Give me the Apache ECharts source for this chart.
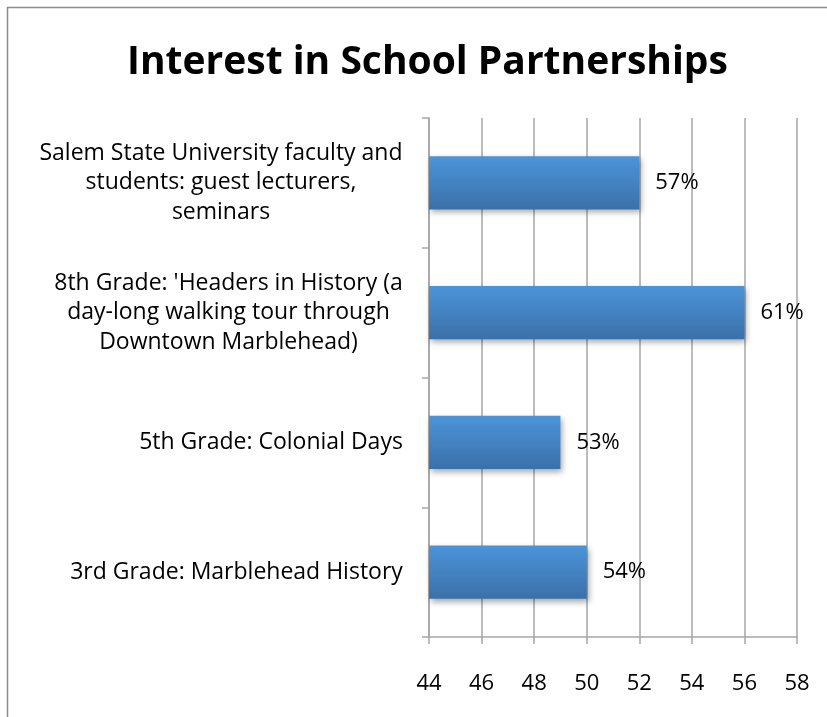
<!DOCTYPE html>
<html>
<head>
<meta charset="utf-8">
<script src="https://cdn.jsdelivr.net/npm/echarts@6/dist/echarts.min.js"></script>
<style>
  html, body { margin: 0; padding: 0; background: #fff; }
  #chart { width: 827px; height: 717px; }
</style>
</head>
<body>
<div id="chart"></div>
<script>
const categories = [
  "3rd Grade: Marblehead History",
  "5th Grade: Colonial Days",
  "8th Grade: 'Headers in History (a\nday-long walking tour through\nDowntown Marblehead)",
  "Salem State University faculty and\nstudents: guest lecturers,\nseminars"
];
const barValues = [50, 49, 56, 52];
const barLabels = ["54%", "53%", "61%", "57%"];
const xTicks = [44, 46, 48, 50, 52, 54, 56, 58];
const titleText = "Interest in School Partnerships";

const FONT = "Open Sans";
const labelSize = 23;
const titleSize = 39;

// measure text so wrapped category lines can be centred and the title placed
const ctx = document.createElement("canvas").getContext("2d");
ctx.font = labelSize + "px " + FONT;
const rich = {};
categories.forEach((c, i) => {
  const w = Math.max(...c.split("\n").map((l) => ctx.measureText(l).width));
  rich["w" + i] = { width: Math.ceil(w), align: "center", fontSize: labelSize, fontFamily: FONT, color: "#000", lineHeight: 29.5 };
});
ctx.font = "bold " + titleSize + "px " + FONT;
const titleW = ctx.measureText(titleText).width;

const chart = echarts.init(document.getElementById("chart"));

chart.setOption({
  animation: false,
  title: {
    text: titleText,
    left: Math.round(422 - titleW / 2),
    top: 38,
    textStyle: { fontFamily: FONT, fontSize: titleSize, fontWeight: "bold", color: "#000" },
  },
  graphic: [
    {
      type: "rect",
      shape: { x: 7.5, y: 7.5, width: 900, height: 800 },
      style: { fill: "none", stroke: "#8c8c8c", lineWidth: 1.5 },
    },
  ],
  grid: { left: 429, right: 30, top: 118, bottom: 80 },
  xAxis: {
    type: "value",
    min: xTicks[0],
    max: xTicks[xTicks.length - 1],
    interval: 2,
    axisLine: { show: true, lineStyle: { color: "#a6a6a6", width: 1.5 } },
    axisTick: { show: true, length: 7, lineStyle: { color: "#a6a6a6", width: 1.5 } },
    splitLine: { show: true, lineStyle: { color: "#a6a6a6", width: 1.5 } },
    axisLabel: { color: "#000", fontFamily: FONT, fontSize: 22, margin: 36 },
  },
  yAxis: {
    type: "category",
    data: categories,
    axisLine: { show: true, lineStyle: { color: "#a6a6a6", width: 1.5 } },
    axisTick: { show: true, length: 7, lineStyle: { color: "#a6a6a6", width: 1.5 } },
    axisLabel: {
      margin: 26,
      align: "right",
      formatter: (value, index) =>
        value.split("\n").map((l) => "{w" + index + "|" + l + "}").join("\n"),
      rich: rich,
    },
  },
  series: [
    {
      type: "bar",
      data: barValues,
      barWidth: "41%",
      itemStyle: {
        color: new echarts.graphic.LinearGradient(0, 0, 0, 1, [
          { offset: 0, color: "#4b94d9" },
          { offset: 1, color: "#3b70a9" },
        ]),
        shadowColor: "rgba(0,0,0,0.35)",
        shadowBlur: 6,
        shadowOffsetX: 2,
        shadowOffsetY: 3,
      },
      label: {
        show: true,
        position: "right",
        distance: 16,
        color: "#000",
        fontFamily: FONT,
        fontSize: 22,
        formatter: (p) => barLabels[p.dataIndex],
      },
    },
  ],
});
</script>
</body>
</html>
